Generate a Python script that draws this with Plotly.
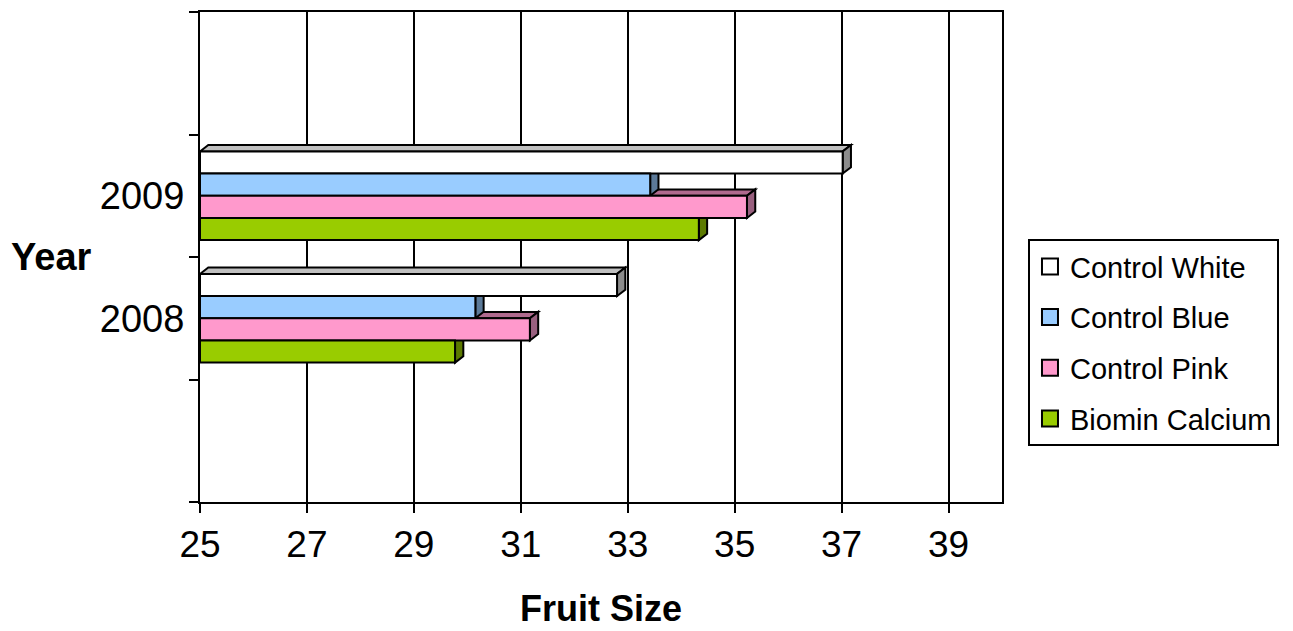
import plotly.graph_objects as go

# ---- data ----
years = ["2008", "2009"]
series_names = ["Control White", "Control Blue", "Control Pink", "Biomin Calcium"]
control_white = [32.80, 37.02]
control_blue = [30.15, 33.42]
control_pink = [31.17, 35.23]
biomin_calcium = [29.77, 34.33]
x_ticks = [25, 27, 29, 31, 33, 35, 37, 39]

series_values = [control_white, control_blue, control_pink, biomin_calcium]

# ---- styling ----
front_colors = ["#FFFFFF", "#99CCFF", "#FF99CC", "#99CC00"]
top_colors = ["#C0C0C0", "#6A8AAD", "#B06A8E", "#6A8E00"]
side_colors = ["#8C8C8C", "#5C7A99", "#99607F", "#5C7A00"]
FONT = "Liberation Sans, Arial, Helvetica, sans-serif"

X_MIN, X_MAX = 25, 40
BAR_W = 0.181          # bar thickness in category units
DEPTH_X = 0.155        # 3D depth offset along the value axis
DEPTH_Y = 0.052        # 3D depth offset along the category axis
# top-to-bottom slot of each series inside a year group
offsets = [BAR_W, 0.0, -BAR_W, -2 * BAR_W]

year_pos = list(range(len(years)))

fig = go.Figure()

# front faces of the bars
for name, vals, col, off in zip(series_names, series_values, front_colors, offsets):
    fig.add_trace(go.Bar(
        y=year_pos, x=[v - X_MIN for v in vals], base=X_MIN,
        orientation="h", width=BAR_W, offset=off,
        marker=dict(color=col, line=dict(color="black", width=2)),
        name=name, showlegend=False, hoverinfo="skip",
    ))

# legend entries
for k, (name, col) in enumerate(zip(series_names, front_colors)):
    fig.add_trace(go.Scatter(
        x=[None], y=[None], mode="markers", name=name, legendgroup=f"g{k}",
        marker=dict(symbol="square", size=16, color=col,
                    line=dict(color="black", width=2)),
    ))

# top and side faces giving the bars depth (drawn bottom bar first)
shapes = []
for yi in year_pos:
    for k in reversed(range(len(series_names))):
        v = series_values[k][yi]
        yb = yi + offsets[k]
        yt = yb + BAR_W
        top = (f"M {X_MIN},{yt} L {X_MIN + DEPTH_X},{yt + DEPTH_Y} "
               f"L {v + DEPTH_X},{yt + DEPTH_Y} L {v},{yt} Z")
        side = (f"M {v},{yb} L {v},{yt} L {v + DEPTH_X},{yt + DEPTH_Y} "
                f"L {v + DEPTH_X},{yb + DEPTH_Y} Z")
        shapes.append(dict(type="path", path=top, xref="x", yref="y",
                           fillcolor=top_colors[k], layer="between",
                           line=dict(color="black", width=2)))
        shapes.append(dict(type="path", path=side, xref="x", yref="y",
                           fillcolor=side_colors[k], layer="between",
                           line=dict(color="black", width=2)))

fig.update_layout(
    width=1293, height=631,
    margin=dict(l=200, r=291, t=10, b=129),
    paper_bgcolor="white", plot_bgcolor="white",
    barmode="overlay",
    font=dict(family=FONT, color="black"),
    shapes=shapes,
    showlegend=True,
    legend=dict(
        x=1.0324, xanchor="left", y=0.5366, yanchor="top",
        bordercolor="black", borderwidth=2, bgcolor="white",
        font=dict(size=29, family=FONT, color="black"),
        tracegroupgap=10, traceorder="grouped",
    ),
    annotations=[
        dict(text="<b>Fruit Size</b>", xref="paper", yref="paper",
             x=0.5, y=0, xanchor="center", yanchor="middle", yshift=-106,
             showarrow=False, font=dict(size=36, family=FONT)),
        dict(text="<b>Year</b>", xref="paper", yref="paper",
             x=0, y=0.5, xanchor="center", yanchor="middle", xshift=-149,
             showarrow=False, font=dict(size=38, family=FONT)),
    ],
)

fig.update_xaxes(
    range=[X_MIN, X_MAX], tickvals=x_ticks, ticktext=[str(t) for t in x_ticks],
    showgrid=True, gridcolor="black", gridwidth=2,
    showline=True, linecolor="black", linewidth=2, mirror=True,
    ticks="outside", ticklen=9, tickwidth=2, tickcolor="black",
    tickfont=dict(size=37, family=FONT), zeroline=False,
)

fig.update_yaxes(
    range=[-1.5, 2.5], tickvals=year_pos, ticktext=years,
    showgrid=False, zeroline=False,
    showline=True, linecolor="black", linewidth=2, mirror=True,
    ticks="", ticklabelstandoff=6,
    tickfont=dict(size=38, family=FONT),
    minor=dict(tickvals=[-1.5, -0.5, 0.5, 1.5, 2.5], ticks="outside",
               ticklen=9, tickwidth=2, tickcolor="black", showgrid=False),
)

fig.write_html("out.html")
